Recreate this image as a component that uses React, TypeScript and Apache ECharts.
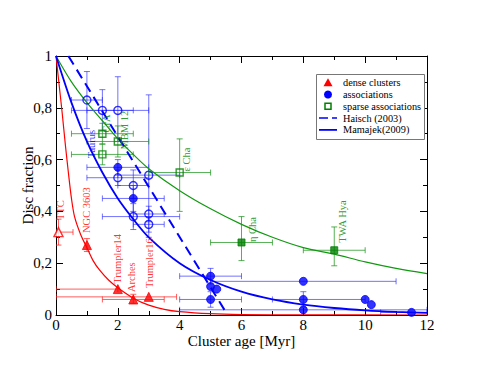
import React, { useEffect, useRef } from "react";
import * as echarts from "echarts";

// ---- data ----
// [x, y, xLow, xHigh, yLow, yHigh, filled]
const denseClusters: number[][] = [
  [0.08, 0.32, 0.0, 0.55, 0.27, 0.37, 0],
  [1.0, 0.27, 1.0, 1.0, 0.245, 0.295, 1],
  [2.0, 0.1, 0.0, 2.0, 0.1, 0.1, 1],
  [2.5, 0.06, 1.5, 3.5, 0.045, 0.08, 1],
  [3.0, 0.07, 0.0, 3.9, 0.07, 0.07, 1],
];
const associations: number[][] = [
  [1.0, 0.83, 0.5, 1.5, 0.72, 0.94, 0],
  [1.5, 0.79, 0.5, 2.5, 0.71, 0.87, 0],
  [2.0, 0.79, 1.0, 3.0, 0.67, 0.92, 0],
  [3.0, 0.54, 2.0, 4.0, 0.3, 0.85, 0],
  [2.0, 0.57, 1.0, 3.0, 0.54, 0.6, 1],
  [2.0, 0.53, 1.0, 3.0, 0.5, 0.56, 0],
  [2.5, 0.5, 2.0, 3.0, 0.45, 0.56, 0],
  [2.5, 0.45, 1.5, 3.5, 0.4, 0.5, 1],
  [2.5, 0.38, 1.5, 4.0, 0.33, 0.43, 0],
  [3.0, 0.39, 2.5, 3.5, 0.36, 0.42, 0],
  [3.0, 0.35, 2.5, 3.5, 0.32, 0.38, 0],
  [5.0, 0.15, 4.0, 6.0, 0.12, 0.18, 1],
  [5.0, 0.11, 5.0, 5.0, 0.11, 0.11, 1],
  [5.2, 0.1, 5.2, 5.2, 0.1, 0.1, 1],
  [5.0, 0.06, 4.0, 6.0, 0.03, 0.09, 1],
  [8.0, 0.13, 5.0, 11.0, 0.13, 0.13, 1],
  [8.0, 0.06, 7.0, 10.0, 0.03, 0.09, 1],
  [10.0, 0.06, 10.0, 10.0, 0.06, 0.06, 1],
  [10.2, 0.04, 10.2, 10.2, 0.04, 0.04, 1],
  [8.0, 0.02, 4.0, 12.0, 0.02, 0.02, 1],
  [11.5, 0.01, 10.5, 12.0, 0.01, 0.01, 1],
];
const sparseAssociations: number[][] = [
  [1.5, 0.7, 0.5, 2.5, 0.66, 0.74, 0],
  [1.5, 0.62, 0.5, 2.5, 0.58, 0.66, 0],
  [2.0, 0.67, 1.0, 3.0, 0.61, 0.73, 0],
  [4.0, 0.55, 3.0, 5.0, 0.4, 0.68, 0],
  [6.0, 0.28, 5.0, 7.0, 0.21, 0.38, 1],
  [9.0, 0.25, 8.0, 10.0, 0.19, 0.34, 1],
];

const haischLine: number[][] = [
  [0.4, 1.0],
  [5.55, 0.0],
];
const mamajekCurve: number[][] = [
  [0, 1], [0.5, 0.82], [1, 0.67], [1.5, 0.55], [2, 0.45], [2.5, 0.37], [3, 0.3],
  [4, 0.2], [5, 0.135], [6, 0.09], [7, 0.06], [8, 0.04], [9, 0.027], [10, 0.018],
  [11, 0.012], [12, 0.008],
];
const denseCurve: number[][] = [
  [0, 1], [0.1, 0.89], [0.2, 0.78], [0.3, 0.66], [0.4, 0.55], [0.5, 0.45], [0.6, 0.38],
  [0.8, 0.31], [1.0, 0.26], [1.2, 0.21], [1.4, 0.175], [1.7, 0.135], [2.0, 0.105],
  [2.5, 0.065], [3.0, 0.038], [3.5, 0.022], [4.0, 0.013], [5.0, 0.005], [6.0, 0.002],
  [8.0, 0.0005], [12.0, 0],
];
const sparseCurve: number[][] = [
  [0, 1], [0.5, 0.9], [1, 0.82], [1.5, 0.75], [2, 0.68], [2.5, 0.62], [3, 0.565],
  [4, 0.48], [5, 0.41], [6, 0.35], [7, 0.3], [8, 0.26], [9, 0.235], [10, 0.205],
  [11, 0.18], [12, 0.16],
];

// [text, x, y, group]
const annotations: [string, number, number, string][] = [
  ["TTC", 0.16, 0.405, "dense"],
  ["NGC 3603", 1.0, 0.405, "dense"],
  ["Trumpler14", 1.99, 0.217, "dense"],
  ["Arches", 2.45, 0.146, "dense"],
  ["Trumpler16", 3.01, 0.2, "dense"],
  ["Taurus", 1.15, 0.66, "assoc"],
  ["CrA", 1.62, 0.74, "sparse"],
  ["MBM 12", 2.22, 0.714, "sparse"],
  ["\u03b5 Cha", 4.22, 0.6, "sparse"],
  ["\u03b7 Cha", 6.37, 0.33, "sparse"],
  ["TWA Hya", 9.28, 0.361, "sparse"],
];

const legendNames = ["dense clusters", "associations", "sparse associations", "Haisch (2003)", "Mamajek(2009)"];
const xTickLabels = ["0", "2", "4", "6", "8", "10", "12"];
const yTickLabels = ["0", "0,2", "0,4", "0,6", "0,8", "1"];

const RED = "#ff0000";
const BLUE = "#0000ff";
const GREEN = "#008000";
const FONT = "Liberation Serif";
const groupColor: Record<string, string> = { dense: RED, assoc: BLUE, sparse: GREEN };

function errorBars(color: string) {
  return (params: any, api: any) => {
    const x = api.value(0), y = api.value(1);
    const xl = api.value(2), xh = api.value(3), yl = api.value(4), yh = api.value(5);
    const style = { stroke: color, lineWidth: 1 };
    const cap = 3;
    const children: any[] = [];
    if (xh > xl) {
      const a = api.coord([xl, y]);
      const b = api.coord([xh, y]);
      children.push({ type: "line", shape: { x1: a[0], y1: a[1], x2: b[0], y2: b[1] }, style });
      children.push({ type: "line", shape: { x1: a[0], y1: a[1] - cap, x2: a[0], y2: a[1] + cap }, style });
      children.push({ type: "line", shape: { x1: b[0], y1: b[1] - cap, x2: b[0], y2: b[1] + cap }, style });
    }
    if (yh > yl) {
      const a = api.coord([x, yl]);
      const b = api.coord([x, yh]);
      children.push({ type: "line", shape: { x1: a[0], y1: a[1], x2: b[0], y2: b[1] }, style });
      children.push({ type: "line", shape: { x1: a[0] - cap, y1: a[1], x2: a[0] + cap, y2: a[1] }, style });
      children.push({ type: "line", shape: { x1: b[0] - cap, y1: b[1], x2: b[0] + cap, y2: b[1] }, style });
    }
    return { type: "group", children };
  };
}

function pointItems(rows: number[][], color: string, openFill: boolean) {
  return rows.map((r) => {
    const filled = r[6] === 1;
    return {
      value: [r[0], r[1]],
      itemStyle: filled
        ? { color, borderColor: color, borderWidth: 1 }
        : { color: openFill ? "#ffffff" : "rgba(255,255,255,0)", borderColor: color, borderWidth: 1.4 },
    };
  });
}

const axisCommon = {
  axisLine: { show: true, onZero: false, lineStyle: { color: "#000", width: 1 } },
  axisTick: { show: true, inside: true, length: 7, lineStyle: { color: "#000", width: 1 } },
  minorTick: { show: true, splitNumber: 2, length: 4, lineStyle: { color: "#000", width: 1 } },
  splitLine: { show: false },
  minorSplitLine: { show: false },
};

// legend (drawn with graphic elements)
const LX = 316, LY = 74, LW = 108, LH = 65, ROW = 11.8, SX = 328, TX = 343;
const rowY = (i: number) => LY + 8.7 + i * ROW;
const legendGraphic: any[] = [
  { type: "rect", shape: { x: LX + 0.5, y: LY + 0.5, width: LW, height: LH }, style: { fill: "#fff", stroke: "#777", lineWidth: 1 }, z: 10 },
  {
    type: "polygon", z: 11,
    shape: { points: [[SX, rowY(0) - 4.5], [SX + 4.5, rowY(0) + 3.5], [SX - 4.5, rowY(0) + 3.5]] },
    style: { fill: RED },
  },
  { type: "circle", z: 11, shape: { cx: SX, cy: rowY(1), r: 4 }, style: { fill: BLUE } },
  { type: "rect", z: 11, shape: { x: SX - 3, y: rowY(2) - 3, width: 6, height: 6 }, style: { fill: "#fff", stroke: GREEN, lineWidth: 1.5 } },
  { type: "line", z: 11, shape: { x1: SX - 9, y1: rowY(3), x2: SX + 9, y2: rowY(3) }, style: { stroke: BLUE, lineWidth: 1.5, lineDash: [9, 4] } },
  { type: "line", z: 11, shape: { x1: SX - 9, y1: rowY(4), x2: SX + 9, y2: rowY(4) }, style: { stroke: BLUE, lineWidth: 1.8 } },
  ...legendNames.map((n, i) => ({
    type: "text", z: 11, x: TX, y: rowY(i),
    style: { text: n, fill: "#000", fontFamily: FONT, fontSize: 10.3, align: "left", verticalAlign: "middle" },
  })),
];

const option: any = {
  animation: false,
  backgroundColor: "#ffffff",
  textStyle: { fontFamily: FONT },
  grid: { left: 56, right: 54, top: 56, bottom: 57, containLabel: false },
  graphic: legendGraphic,
  xAxis: [
    {
      type: "value", min: 0, max: 12, interval: 2, position: "bottom",
      name: "Cluster age [Myr]", nameLocation: "middle", nameGap: 18, nameMoveOverlap: false,
      nameTextStyle: { fontFamily: FONT, fontSize: 15, color: "#000" },
      axisLabel: {
        fontFamily: FONT, fontSize: 15, color: "#000", margin: 3, lineHeight: 14,
        formatter: (v: number) => xTickLabels[Math.round(v / 2)],
      },
      ...axisCommon,
    },
    {
      type: "value", min: 0, max: 12, interval: 2, position: "top",
      axisLabel: { show: false },
      ...axisCommon,
    },
  ],
  yAxis: [
    {
      type: "value", min: 0, max: 1, interval: 0.2, position: "left",
      name: "Disc fraction", nameLocation: "middle", nameGap: 21, nameMoveOverlap: false,
      nameTextStyle: { fontFamily: FONT, fontSize: 15, color: "#000" },
      axisLabel: {
        fontFamily: FONT, fontSize: 15, color: "#000", margin: 4,
        formatter: (v: number) => yTickLabels[Math.round(v / 0.2)],
      },
      ...axisCommon,
    },
    {
      type: "value", min: 0, max: 1, interval: 0.2, position: "right",
      axisLabel: { show: false },
      ...axisCommon,
    },
  ],
  series: [
    {
      name: "errDense", type: "custom", renderItem: errorBars("rgba(255,40,40,0.75)"),
      data: denseClusters, encode: { x: 0, y: 1 }, clip: true, z: 1, silent: true,
    },
    {
      name: "errAssoc", type: "custom", renderItem: errorBars("rgba(40,40,255,0.65)"),
      data: associations, encode: { x: 0, y: 1 }, clip: true, z: 1, silent: true,
    },
    {
      name: "errSparse", type: "custom", renderItem: errorBars("rgba(30,150,30,0.75)"),
      data: sparseAssociations, encode: { x: 0, y: 1 }, clip: true, z: 1, silent: true,
    },
    {
      name: "denseFit", type: "line", data: denseCurve, smooth: 0.3, symbol: "none",
      lineStyle: { color: RED, width: 1.2 }, z: 2, silent: true,
    },
    {
      name: "sparseFit", type: "line", data: sparseCurve, smooth: 0.3, symbol: "none",
      lineStyle: { color: "#119911", width: 1.2 }, z: 2, silent: true,
    },
    {
      name: "Haisch (2003)", type: "line", data: haischLine, symbol: "none",
      lineStyle: { color: BLUE, width: 2, type: [10, 6] }, z: 2, silent: true,
    },
    {
      name: "Mamajek(2009)", type: "line", data: mamajekCurve, smooth: 0.3, symbol: "none",
      lineStyle: { color: BLUE, width: 1.8 }, z: 2, silent: true,
    },
    {
      name: "dense clusters", type: "scatter", symbol: "triangle", symbolSize: 9,
      itemStyle: { color: RED }, data: pointItems(denseClusters, RED, true), z: 3,
    },
    {
      name: "associations", type: "scatter", symbol: "circle", symbolSize: 8,
      itemStyle: { color: BLUE }, data: pointItems(associations, BLUE, false), z: 3,
    },
    {
      name: "sparse associations", type: "scatter", symbol: "rect", symbolSize: 7,
      itemStyle: { color: "#ffffff", borderColor: GREEN, borderWidth: 1.4 },
      data: pointItems(sparseAssociations, GREEN, false), z: 3,
    },
    {
      name: "labels", type: "scatter", symbolSize: 0, silent: true, z: 4,
      data: annotations.map((a) => ({
        value: [a[1], a[2]],
        label: {
          show: true, formatter: a[0], position: "inside", rotate: 90,
          color: groupColor[a[3]], fontFamily: FONT, fontSize: 10.5,
          align: "center", verticalAlign: "middle",
        },
      })),
    },
  ],
};

export default function App() {
  const ref = useRef<HTMLDivElement>(null);
  useEffect(() => {
    if (!ref.current) return;
    const chart = echarts.init(ref.current, null, { renderer: "svg" });
    chart.setOption(option);
    return () => chart.dispose();
  }, []);
  return (
    <div
      ref={ref}
      style={{ position: "absolute", left: 0, top: 0, width: 481, height: 372, background: "#fff" }}
    />
  );
}
